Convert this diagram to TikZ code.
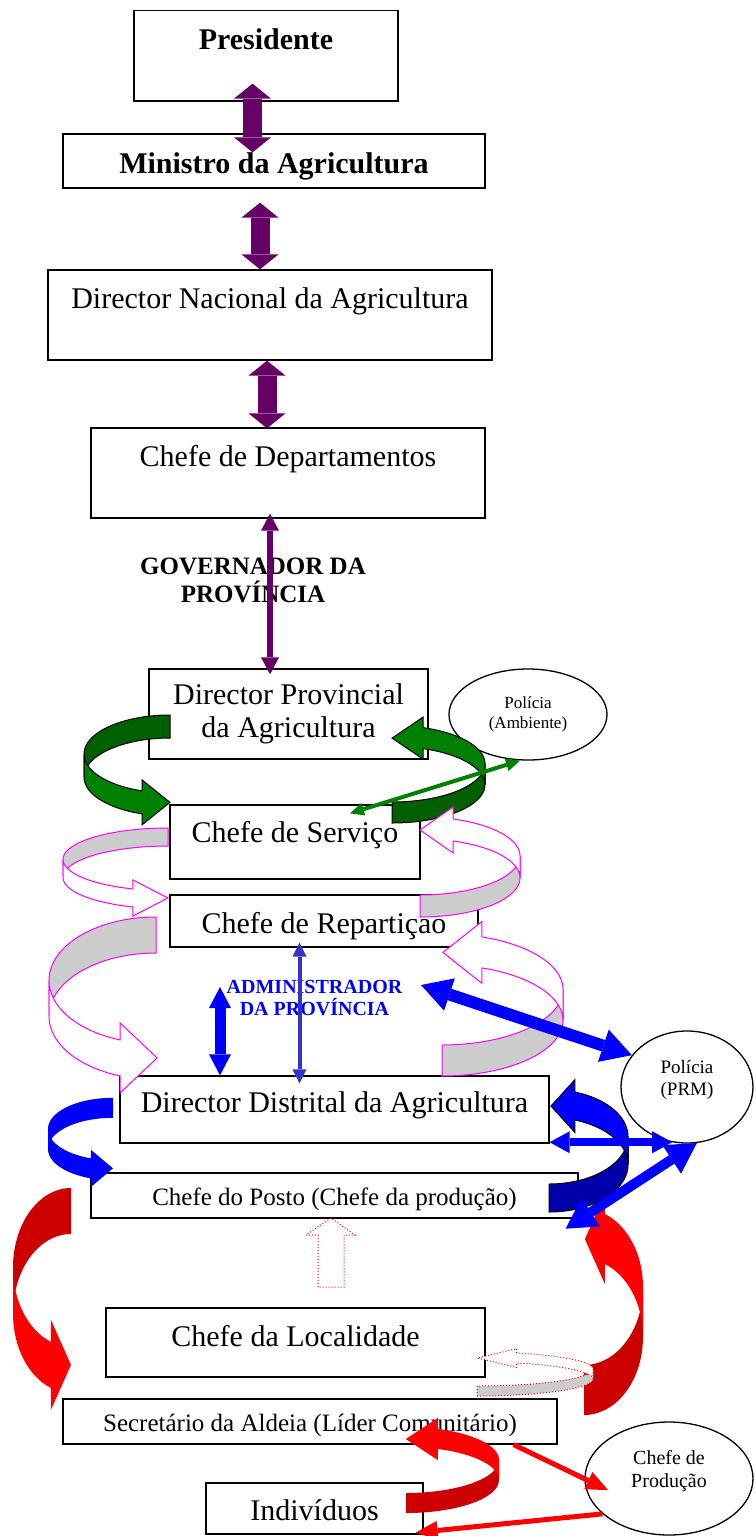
\documentclass[tikz,border=0pt]{standalone}
\usepackage{fontspec}
\setmainfont{Liberation Serif}
\usetikzlibrary{arrows.meta,shapes.geometric}

\definecolor{plum}{RGB}{102,0,102}
\definecolor{leaf}{RGB}{0,128,0}
\definecolor{deepleaf}{RGB}{0,96,0}
\definecolor{pinkline}{RGB}{255,0,255}
\definecolor{ribbongray}{RGB}{204,204,204}
\definecolor{navyband}{RGB}{0,0,170}
\definecolor{darkred}{RGB}{204,0,0}
\definecolor{slate}{RGB}{51,51,204}

% curled band arrow: #1,#2 radii, #3 band, #4 end angle, #5 head overhang, #6 head length, #7 back fill, #8 front fill, #9 outline
\newcommand{\ribbon}[9]{%
  \pgfmathsetmacro{\rbx}{#1*cos(#4)}%
  \pgfmathsetmacro{\rby}{#2*sin(#4)}%
  \filldraw[fill=#7,draw=#9,samples=40]
    plot[domain=270:180] ({#1*cos(\x)},{#2*sin(\x)})
    -- plot[domain=180:270] ({#1*cos(\x)},{#2*sin(\x)+#3}) -- cycle;
  \filldraw[fill=#8,draw=#9,samples=40]
    plot[domain=180:#4] ({#1*cos(\x)},{#2*sin(\x)})
    -- ({\rbx},{\rby-#5}) -- ({\rbx+#6},{\rby+#3/2}) -- ({\rbx},{\rby+#3+#5})
    -- plot[domain=#4:180] ({#1*cos(\x)},{#2*sin(\x)+#3}) -- cycle;
}

\begin{document}
\begin{tikzpicture}[x=1pt,y=-1pt,
  box/.style={draw,fill=white,line width=1.3pt,inner sep=0pt,anchor=base,font=\fontsize{30}{33.5}\selectfont},
  oval/.style={draw,fill=white,ellipse,line width=1.3pt,inner sep=0pt,align=center},
  plumbar/.style={plum,line width=19pt,>={Triangle[length=15pt,width=37pt,line width=0pt]},<->},
  plumline/.style={plum,line width=6pt,>={Triangle[length=17pt,width=18pt,line width=0pt]},<->},
  bluebar/.style={blue,line width=11pt,>={Triangle[length=21pt,width=22pt,line width=0pt]},<->},
  bluebig/.style={blue,line width=12pt,>={Triangle[length=30pt,width=34pt,line width=0pt]},<->},
  bluemid/.style={blue,line width=8pt,>={Triangle[length=20pt,width=22pt,line width=0pt]},<->},
  slateline/.style={slate,line width=4pt,>={Triangle[length=14pt,width=14pt,line width=0pt]},<->},
  leafline/.style={leaf,line width=4pt,>={Triangle[length=14pt,width=13pt,line width=0pt]},<->},
  redline/.style={red,line width=5pt,>={Triangle[length=22pt,width=19pt,line width=0pt]},->}]
\useasboundingbox (0,0) rectangle (755,1536);

% boxes
\node[box,minimum width=264pt,text height=39.5pt,text depth=51pt,font=\fontsize{30}{34}\selectfont\bfseries] (pres) at (266,50) {Presidente};
\node[box,minimum width=422pt,text height=39pt,text depth=15pt,font=\fontsize{30}{34}\selectfont\bfseries] (min) at (274,173) {Ministro da Agricultura};
\node[box,minimum width=444pt,text height=38pt,text depth=52pt] (dirnac) at (270,308) {Director Nacional da Agricultura};
\node[box,minimum width=394pt,text height=38.6pt,text depth=51.4pt] (chefdep) at (288,466.6) {Chefe de Departamentos};
\node[box,anchor=center,minimum width=279pt,minimum height=90pt,align=center] (provdir) at (288.5,714) {Director Provincial\\da Agricultura};
\node[box,minimum width=250pt,text height=37pt,text depth=37pt] (serv) at (295,842) {Chefe de Serviço};
\node[box,minimum width=308pt,text height=38pt,text depth=14pt] (repart) at (324,933) {Chefe de Repartiçao};
\node[box,minimum width=429pt,text height=36.7pt,text depth=30.3pt] (distdir) at (334.5,1112.7) {Director Distrital da Agricultura};
\node[box,minimum width=487pt,text height=32pt,text depth=13pt,font=\fontsize{25}{28}\selectfont] (posto) at (334.5,1205) {Chefe do Posto (Chefe da produção)};
\node[box,minimum width=379pt,text height=38.7pt,text depth=30.3pt] (local) at (295.5,1346.7) {Chefe da Localidade};
\node[box,minimum width=494pt,text height=32.7pt,text depth=12.3pt,font=\fontsize{25}{28}\selectfont] (secret) at (310,1431.7) {Secretário da Aldeia (Líder Comunitário)};
\node[box,minimum width=217pt,text height=37pt,text depth=14pt] (indiv) at (314.5,1520) {Indivíduos};

% police and production ovals
\node[oval,minimum width=158pt,minimum height=91pt,font=\fontsize{17}{20}\selectfont] (polamb) at (528,714.5) {Polícia\\(Ambiente)};
\node[oval,minimum width=132pt,minimum height=112pt,text depth=18pt,font=\fontsize{19}{22.3}\selectfont] (prm) at (687,1087) {Polícia\\(PRM)};
\node[oval,minimum width=168pt,minimum height=113pt,text depth=20pt,font=\fontsize{20}{23}\selectfont] (prod) at (669,1478.5) {Chefe de\\Produção};

% labels
\node[align=center,font=\fontsize{25}{28}\selectfont\bfseries] (gov) at (253,580) {GOVERNADOR DA\\PROVÍNCIA};
\node[align=center,text=blue,font=\fontsize{20}{22.6}\selectfont\bfseries] (admin) at (314.5,998) {ADMINISTRADOR\\DA PROVÍNCIA};
\coordinate (admtop) at (220,987);
\coordinate (admright) at (421,985);

% green loops
\begin{scope}[shift={(170,754)},line width=1pt]
  \ribbon{86}{39}{23}{109}{11}{28}{deepleaf}{leaf}{black}
\end{scope}
\begin{scope}[shift={(392,784.7)},xscale=-1,yscale=-1,line width=1pt]
  \ribbon{93}{38.3}{21}{109.5}{10.5}{31}{deepleaf}{leaf}{black}
\end{scope}

% pink loops
\begin{scope}[shift={(168,859.4)},line width=1pt]
  \ribbon{105}{31.4}{18}{109.5}{9}{35}{ribbongray}{white}{pinkline}
\end{scope}
\begin{scope}[shift={(420,877.9)},xscale=-1,yscale=-1,line width=1pt]
  \ribbon{100}{39.1}{22}{109.3}{12}{33}{ribbongray}{white}{pinkline}
\end{scope}
\begin{scope}[shift={(156,980.3)},line width=1pt]
  \ribbon{107}{63.3}{36}{109.6}{17}{37}{ribbongray}{white}{pinkline}
\end{scope}
\begin{scope}[shift={(442,1020.4)},xscale=-1,yscale=-1,line width=1pt]
  \ribbon{121}{55.6}{31}{109.3}{15.5}{39}{ribbongray}{white}{pinkline}
\end{scope}

% red loops
\begin{scope}[shift={(71,1267.4)}]
  \ribbon{58}{79.4}{46}{110.2}{22}{20}{darkred}{red}{none}
\end{scope}
\begin{scope}[shift={(584,1337)},xscale=-1,yscale=-1]
  \ribbon{59}{78}{50}{110.8}{20}{20}{darkred}{red}{none}
\end{scope}
\begin{scope}[shift={(406,1480)},xscale=-1,yscale=-1]
  \ribbon{93}{33}{20}{110}{11}{32}{darkred}{red}{none}
\end{scope}
\begin{scope}[shift={(477,1379)},xscale=-1,yscale=-1,line width=1pt]
  \ribbon{116}{17}{10}{110}{4.5}{39}{ribbongray}{white}{red,dotted}
\end{scope}

% blue loops
\begin{scope}[shift={(113,1129)}]
  \ribbon{65}{31.2}{20}{109.8}{8.5}{22}{blue}{blue}{none}
\end{scope}
\begin{scope}[shift={(549,1164.7)},xscale=-1,yscale=-1,line width=1pt]
  \ribbon{79}{47.3}{28}{109.2}{12.5}{24}{navyband}{blue}{black}
\end{scope}

% dotted hollow arrow
\draw[red,dotted,line width=1pt] (318,1287) -- (318,1235) -- (306,1235) -- (331,1218)
  -- (355,1235) -- (344,1235) -- (344,1287) -- cycle;

% straight links
\draw[plumbar] ([xshift=-13.5pt,yshift=18pt]pres.south) -- ([xshift=-21.5pt,yshift=-19pt]min.north);
\draw[plumbar] ([xshift=-14pt,yshift=-14pt]min.south) -- ([xshift=-10pt]dirnac.north);
\draw[plumbar] ([xshift=-3pt]dirnac.south) -- ([xshift=-21pt,yshift=-1pt]chefdep.north);
\draw[plumline] ([xshift=-18pt,yshift=5pt]chefdep.south) -- ([xshift=-18.5pt,yshift=-6pt]provdir.north);
\draw[leafline] ([xshift=55pt,yshift=-9pt]serv.north) -- ([xshift=-8pt]polamb.south);
\draw[bluebar] (admtop) -- ([xshift=-114.5pt]distdir.north);
\draw[slateline] ([xshift=-24.5pt,yshift=5pt]repart.south) -- ([xshift=-35pt,yshift=-8pt]distdir.north);
\draw[bluebig] (admright) -- (prm.150);
\draw[bluemid] (distdir.south east |- prm.255) -- (prm.255);
\draw[bluebig,line width=10pt] (prm.280) -- ([xshift=-13pt,yshift=-10pt]posto.south east);
\draw[redline] ([xshift=-44pt]secret.south east) -- ([xshift=22pt]prod.188);
\draw[redline] (prod.208) -- ([xshift=-8pt,yshift=2pt]indiv.south east);
\end{tikzpicture}
\end{document}
